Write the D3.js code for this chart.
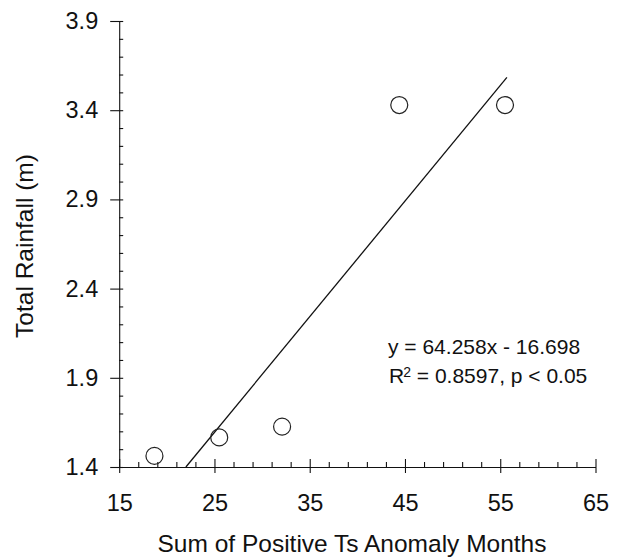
<!DOCTYPE html>
<html>
<head>
<meta charset="utf-8">
<script src="https://cdn.jsdelivr.net/npm/d3@7"></script>
<style>
  html, body { margin: 0; padding: 0; background: #fff; }
  svg { display: block; font-family: "Liberation Sans", Arial, sans-serif; }
  .axis path, .axis line { stroke: #111; stroke-width: 1.1; }
  .axis text { fill: #111; }
</style>
</head>
<body>
<svg id="chart" width="623" height="560"></svg>
<script>
// Observations: sum of positive Ts anomaly months vs. total rainfall (m)
const sumMonths = [18.7, 25.5, 32.1, 44.4, 55.5];
const rainfall  = [1.462, 1.566, 1.626, 3.429, 3.429];

// Fitted trend line end points
const fitX = [22.0, 55.7];
const fitY = [1.4, 3.584];

// Axis ticks
const xTicks = [15, 25, 35, 45, 55, 65];
const yTicks = [1.4, 1.9, 2.4, 2.9, 3.4, 3.9];
const xMinor = d3.range(17, 65, 2).filter(v => (v - 15) % 10 !== 0);
const yMinor = d3.range(15, 39).map(v => v / 10).filter(v => !yTicks.some(t => Math.abs(t - v) < 1e-6));

const eqnLines = ["y = 64.258x - 16.698"];

const svg = d3.select("#chart");
const x = d3.scaleLinear().domain([15, 65]).range([119.2, 595.5]);
const y = d3.scaleLinear().domain([1.4, 3.9]).range([467, 21]);

// X axis: major ticks cross the axis line, minor ticks point inward
const gx = svg.append("g").attr("class", "axis")
  .attr("transform", `translate(0,${y(1.4)})`)
  .call(d3.axisBottom(x).tickValues(xTicks).tickSizeOuter(0).tickPadding(28));
gx.selectAll(".tick line").attr("y1", -8).attr("y2", 6);
gx.selectAll(".tick text").attr("font-size", 23.5).attr("dy", "0.71em").attr("y", 27);
gx.append("g").call(d3.axisBottom(x).tickValues(xMinor).tickSize(-5).tickFormat(""))
  .call(g => g.select(".domain").remove());

// Y axis
const gy = svg.append("g").attr("class", "axis")
  .attr("transform", `translate(${x(15)},0)`)
  .call(d3.axisLeft(y).tickValues(yTicks).tickFormat(d3.format(".1f")).tickSizeOuter(0).tickPadding(21));
gy.selectAll(".tick line").attr("x1", -9).attr("x2", 4);
gy.selectAll(".tick text").attr("font-size", 23.5).attr("x", -21);
gy.append("g").call(d3.axisLeft(y).tickValues(yMinor).tickSize(-4).tickFormat(""))
  .call(g => g.select(".domain").remove());

// Axis titles
svg.append("text")
  .attr("x", 352).attr("y", 552)
  .attr("text-anchor", "middle")
  .attr("font-size", 24.5).attr("fill", "#111")
  .text("Sum of Positive Ts Anomaly Months");

svg.append("text")
  .attr("transform", "translate(33,246) rotate(-90)")
  .attr("text-anchor", "middle")
  .attr("font-size", 24.5).attr("fill", "#111")
  .text("Total Rainfall (m)");

// Trend line
const line = d3.line().x((d, i) => x(fitX[i])).y((d, i) => y(fitY[i]));
svg.append("path")
  .datum(fitX)
  .attr("d", line)
  .attr("fill", "none")
  .attr("stroke", "#111")
  .attr("stroke-width", 1.3);

// Observation markers
svg.append("g").selectAll("circle")
  .data(sumMonths)
  .join("circle")
  .attr("cx", d => x(d))
  .attr("cy", (d, i) => y(rainfall[i]))
  .attr("r", 8.5)
  .attr("fill", "none")
  .attr("stroke", "#222")
  .attr("stroke-width", 1.2);

// Regression annotation
const ann = svg.append("g").attr("font-size", 21).attr("fill", "#111");
ann.append("text").attr("x", 388).attr("y", 354).text(eqnLines[0]);
const r2 = ann.append("text").attr("x", 389).attr("y", 383);
r2.append("tspan").text("R");
r2.append("tspan").attr("font-size", 14).attr("dx", -1).attr("baseline-shift", "6").text("2");
r2.append("tspan").text(" = 0.8597, p < 0.05");
</script>
</body>
</html>
